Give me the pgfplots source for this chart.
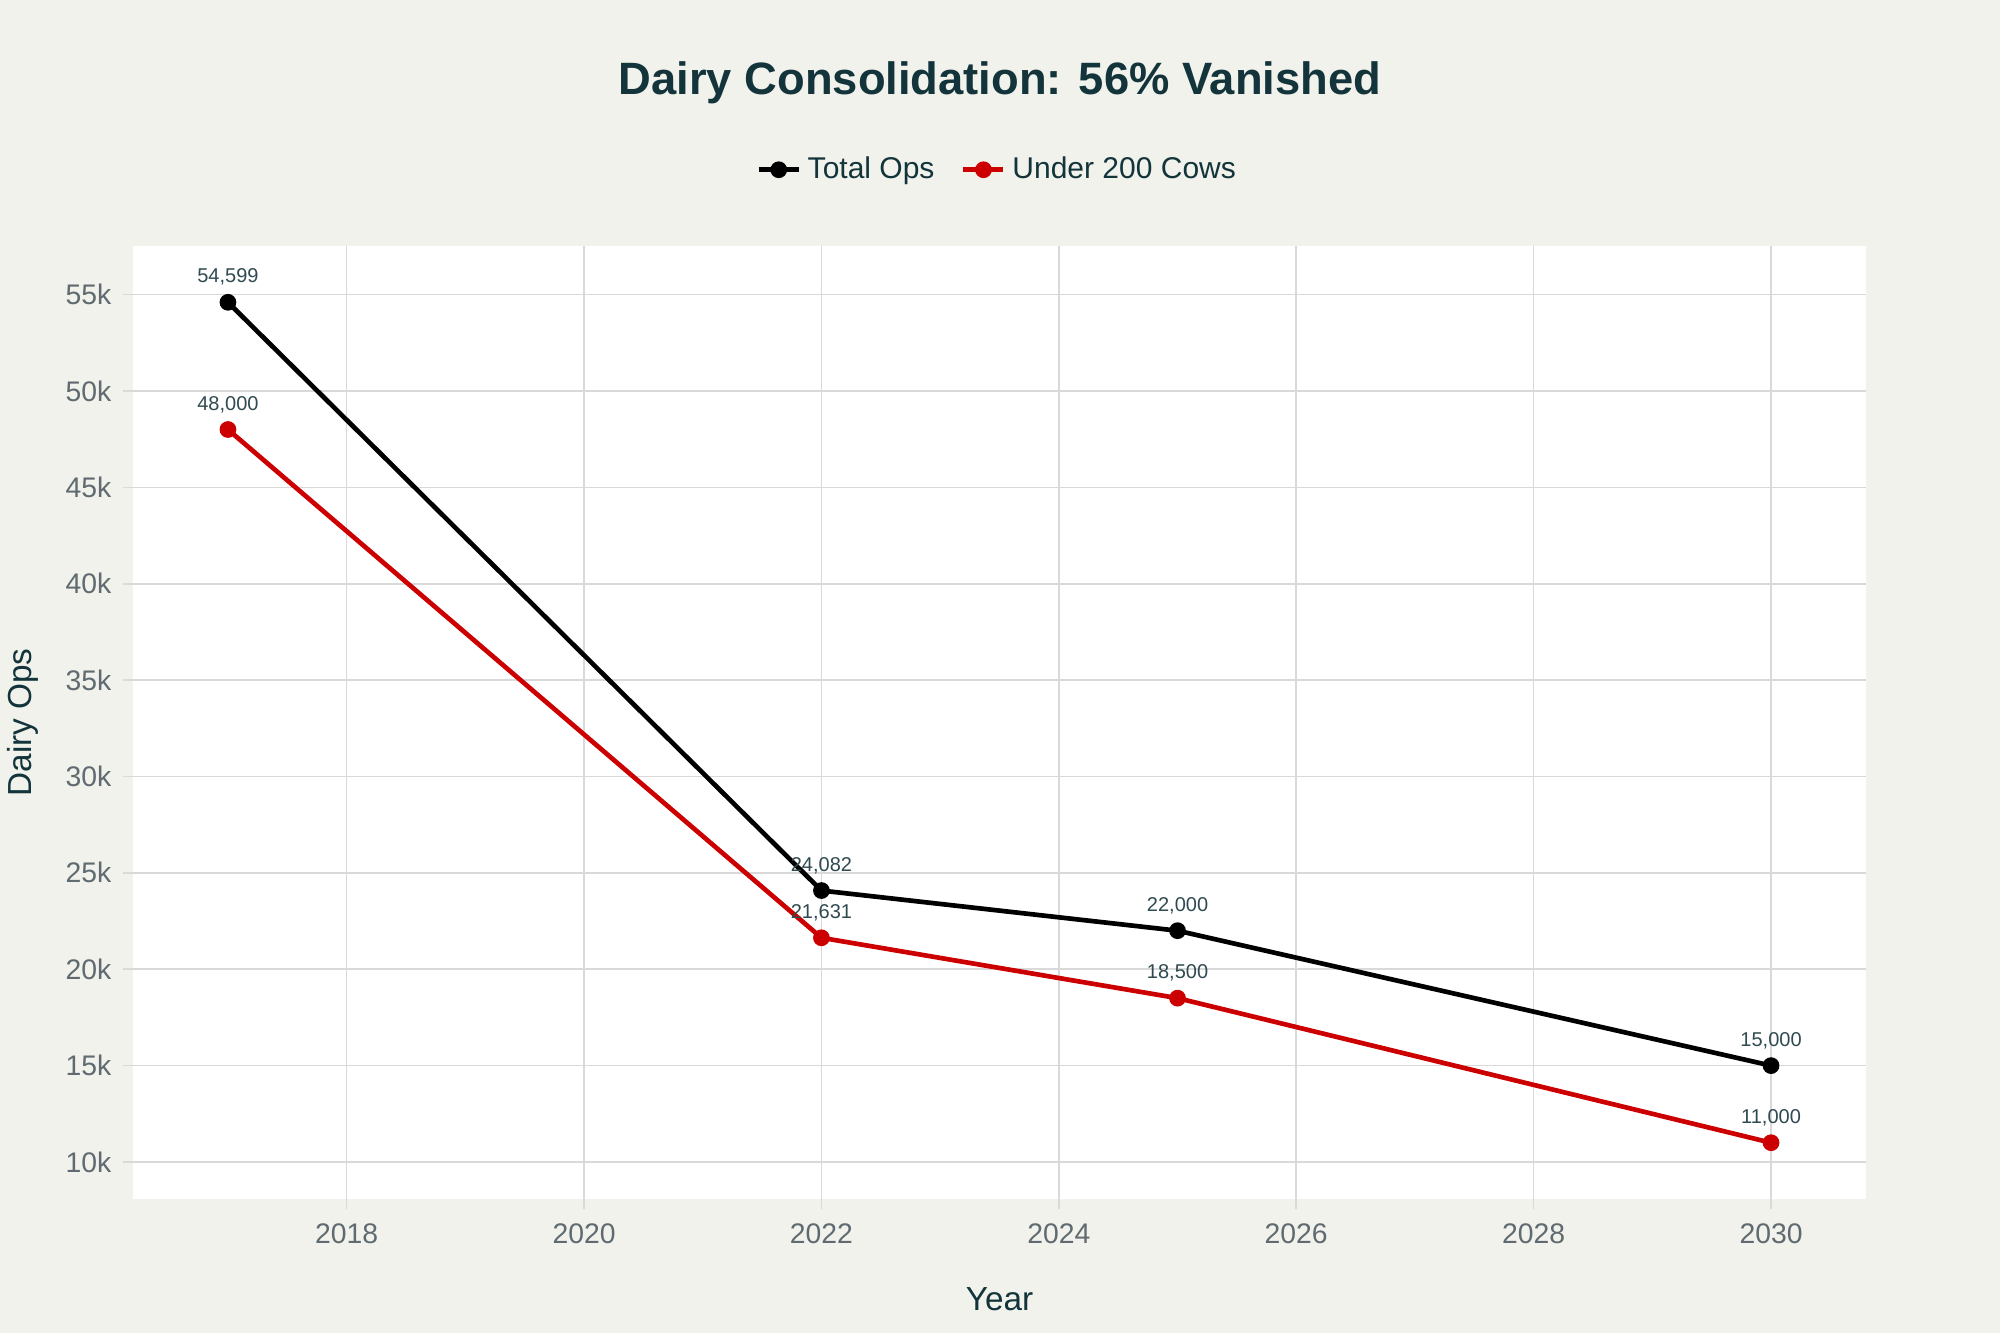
\documentclass[border=0pt]{standalone}
\usepackage{pgfplots}
\pgfplotsset{compat=1.18}
\usepackage{fontspec}
\setmainfont{Liberation Sans}
\definecolor{bg}{HTML}{F2F2EC}
\definecolor{titlec}{HTML}{13343B}
\definecolor{tickc}{HTML}{5F6B70}
\definecolor{gridc}{HTML}{D9D9D9}
\definecolor{redc}{HTML}{CC0000}
\definecolor{labc}{HTML}{2F4A50}
\begin{document}
\begin{tikzpicture}
\fill[bg] (0,0) rectangle (600pt,399.9pt);
\useasboundingbox (0,0) rectangle (600pt,399.9pt);
\node[font=\bfseries\fontsize{13.6}{16}\selectfont, text=titlec] at (300pt,375pt) {Dairy Consolidation: 56\% Vanished};
\begin{axis}[
  at={(39.9pt,40.2pt)}, anchor=south west,
  width=519.9pt, height=285.9pt, scale only axis,
  axis background/.style={fill=white},
  axis line style={draw=none},
  xmin=2016.2, xmax=2030.8,
  ymin=8080, ymax=57520,
  xtick={2018,2020,...,2030},
  ytick={10000,15000,...,55000},
  yticklabels={10k,15k,20k,25k,30k,35k,40k,45k,50k,55k},
  scaled y ticks=false,
  xtick pos=bottom, ytick pos=left,
  /pgf/number format/1000 sep={},
  /pgf/number format/assume math mode=true,
  grid=major,
  major grid style={gridc, line width=0.5pt},
  tick align=outside,
  major tick length=3pt,
  tick style={gridc, line width=0.5pt},
  tick label style={font=\fontsize{8.5}{10}\selectfont, text=tickc},
  xticklabel style={yshift=-1pt},
  xlabel={Year}, ylabel={Dairy Ops},
  every axis x label/.style={at={(axis description cs:0.5,0)}, yshift=-30pt, anchor=center, font=\fontsize{10}{12}\selectfont, text=titlec},
  every axis y label/.style={at={(axis description cs:0,0.5)}, xshift=-33pt, anchor=center, rotate=90, font=\fontsize{10}{12}\selectfont, text=titlec},
  legend columns=2,
  legend style={at={(0.5,1.08)}, anchor=center, draw=none, fill=none,
    font=\fontsize{9}{11}\selectfont, text=titlec,
    /tikz/every even column/.append style={column sep=6pt}},
  legend image code/.code={
    \draw[#1, line width=1.4pt] (0pt,0pt) -- (12pt,0pt);
    \fill[#1] (6pt,0pt) circle (1.8pt);
  },
  point meta=explicit symbolic,
  nodes near coords,
  nodes near coords style={font=\fontsize{6}{7}\selectfont, text=labc, anchor=south, yshift=1pt},
]
\addplot[black, line width=1.4pt, mark=*, mark size=1.8pt, mark options={fill=black}]
  table[meta=label] {
x y label
2017 54599 54,599
2022 24082 24,082
2025 22000 22,000
2030 15000 15,000
};
\addlegendentry{Total Ops}
\addplot[redc, line width=1.4pt, mark=*, mark size=1.8pt, mark options={fill=redc}]
  table[meta=label] {
x y label
2017 48000 48,000
2022 21631 21,631
2025 18500 18,500
2030 11000 11,000
};
\addlegendentry{Under 200 Cows}
\end{axis}
\end{tikzpicture}
\end{document}
